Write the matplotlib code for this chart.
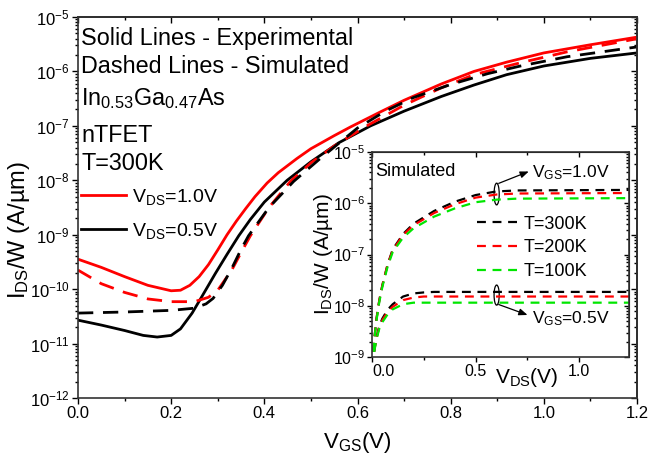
import numpy as np
import matplotlib
matplotlib.use("Agg")
import matplotlib.pyplot as plt
from matplotlib.patches import Ellipse
from matplotlib.ticker import LogLocator, MultipleLocator, FormatStrFormatter, NullFormatter

plt.rcParams['font.family'] = ['Liberation Sans', 'DejaVu Sans']
plt.rcParams['mathtext.fontset'] = 'custom'
plt.rcParams['mathtext.rm'] = 'Liberation Sans'
plt.rcParams['mathtext.it'] = 'Liberation Sans:italic'
plt.rcParams['mathtext.bf'] = 'Liberation Sans:bold'

# ---- main plot: Id/W vs Vgs (valores en log10) ----
vgs_exp_10 = [0.0, 0.05, 0.1, 0.15, 0.2, 0.22, 0.24, 0.26, 0.28, 0.3, 0.32, 0.34, 0.36,
              0.38, 0.406, 0.43, 0.47, 0.5, 0.55, 0.585, 0.65, 0.7, 0.78, 0.85, 0.92, 1.0,
              1.1, 1.2]
log_exp_10 = [-9.45, -9.6, -9.77, -9.93, -10.03, -10.02, -9.93, -9.77, -9.55, -9.28, -9.0,
              -8.75, -8.52, -8.3, -8.05, -7.86, -7.6, -7.42, -7.18, -7.02, -6.74, -6.53,
              -6.23, -6.0, -5.83, -5.66, -5.51, -5.37]

vgs_exp_05 = [0.0, 0.05, 0.1, 0.14, 0.17, 0.2, 0.22, 0.245, 0.265, 0.295, 0.32, 0.345, 0.37,
              0.4, 0.449, 0.5, 0.56, 0.628, 0.7, 0.78, 0.85, 0.92, 1.0, 1.1, 1.2]
log_exp_05 = [-10.57, -10.66, -10.76, -10.85, -10.88, -10.85, -10.73, -10.44, -10.15, -9.71,
              -9.36, -9.02, -8.72, -8.4, -8.0, -7.66, -7.31, -7.0, -6.73, -6.46, -6.25,
              -6.06, -5.9, -5.76, -5.66]

vgs_sim_10 = [0.0, 0.05, 0.1, 0.15, 0.2, 0.25, 0.28, 0.3, 0.33, 0.35, 0.37, 0.41, 0.456,
              0.5, 0.55, 0.62, 0.7, 0.78, 0.85, 0.95, 1.05, 1.2]
log_sim_10 = [-9.65, -9.9, -10.06, -10.18, -10.23, -10.23, -10.15, -10.02, -9.65, -9.33,
              -9.02, -8.5, -8.02, -7.68, -7.37, -7.0, -6.62, -6.3, -6.06, -5.84, -5.64, -5.4]

vgs_sim_05 = [0.0, 0.1, 0.2, 0.25, 0.275, 0.29, 0.31, 0.33, 0.35, 0.366, 0.41, 0.463, 0.52,
              0.6, 0.66, 0.72, 0.8, 0.88, 0.95, 1.05, 1.2]
log_sim_05 = [-10.44, -10.42, -10.39, -10.35, -10.27, -10.17, -9.93, -9.62, -9.27, -9.02,
              -8.5, -8.02, -7.6, -7.04, -6.73, -6.48, -6.24, -6.04, -5.9, -5.73, -5.55]

# ---- inset: Id/W vs Vds simulado a distintas T ----
vds_hi = [0.0, 0.01, 0.02, 0.035, 0.05, 0.075, 0.1, 0.15, 0.2, 0.3, 0.4, 0.5, 0.6, 0.7, 1.25]
log_hi_300 = [-9.2, -8.7, -8.3, -7.9, -7.6, -7.2, -6.9, -6.6, -6.4, -6.15, -5.97, -5.84,
              -5.77, -5.75, -5.74]
log_hi_200 = [-9.2, -8.7, -8.3, -7.9, -7.6, -7.2, -6.92, -6.62, -6.43, -6.19, -6.02, -5.89,
              -5.83, -5.81, -5.8]
log_hi_100 = [-9.2, -8.72, -8.33, -7.93, -7.63, -7.24, -6.95, -6.67, -6.49, -6.26, -6.1,
              -5.98, -5.93, -5.91, -5.9]

vds_lo = [0.0, 0.01, 0.02, 0.035, 0.05, 0.075, 0.1, 0.15, 0.2, 0.25, 0.3, 1.25]
log_lo_300 = [-9.2, -8.9, -8.65, -8.4, -8.25, -8.08, -7.97, -7.82, -7.76, -7.74, -7.73, -7.73]
log_lo_200 = [-9.2, -8.9, -8.66, -8.42, -8.28, -8.12, -8.02, -7.89, -7.84, -7.82, -7.82, -7.82]
log_lo_100 = [-9.2, -8.92, -8.68, -8.45, -8.32, -8.17, -8.07, -7.97, -7.94, -7.94, -7.94, -7.94]

temps = ["T=300K", "T=200K", "T=100K"]
colores = ["black", "red", "#00e600"]

fig = plt.figure(figsize=(6.48, 4.59), dpi=100)
ax = fig.add_axes([78/648, 1-398/459, 559/648, 381/459])

l1, = ax.plot(vgs_exp_10, 10**np.array(log_exp_10), color="red", lw=2)
l2, = ax.plot(vgs_exp_05, 10**np.array(log_exp_05), color="black", lw=2)
ax.plot(vgs_sim_10, 10**np.array(log_sim_10), color="red", lw=2, dashes=(5.5, 3.5))
ax.plot(vgs_sim_05, 10**np.array(log_sim_05), color="black", lw=2, dashes=(5.5, 3.5))

ax.set_yscale("log")
ax.set_xlim(0, 1.2)
ax.set_ylim(1e-12, 1e-5)
ax.xaxis.set_major_locator(MultipleLocator(0.2))
ax.xaxis.set_minor_locator(MultipleLocator(0.1))
ax.xaxis.set_major_formatter(FormatStrFormatter("%.1f"))
ax.yaxis.set_major_locator(LogLocator(base=10, numticks=20))
ax.yaxis.set_minor_locator(LogLocator(base=10, subs=np.arange(2, 10), numticks=20))
ax.yaxis.set_minor_formatter(NullFormatter())
ax.tick_params(which="both", direction="out", labelsize=12, width=1, pad=2)
ax.tick_params(which="major", length=4)
ax.tick_params(which="minor", length=2.5)
for s in ax.spines.values():
    s.set_linewidth(1.2)
    s.set_color("#333333")

top = ax.secondary_xaxis("top")
top.xaxis.set_major_locator(MultipleLocator(0.2))
top.xaxis.set_minor_locator(MultipleLocator(0.1))
top.tick_params(which="both", direction="in", labeltop=False, width=1)
top.tick_params(which="major", length=4)
top.tick_params(which="minor", length=2.5)
top.spines["top"].set_linewidth(1.2)
derecha = ax.secondary_yaxis("right")
derecha.yaxis.set_major_locator(LogLocator(base=10, numticks=20))
derecha.yaxis.set_minor_locator(LogLocator(base=10, subs=np.arange(2, 10), numticks=20))
derecha.tick_params(which="both", direction="in", labelright=False, width=1)
derecha.tick_params(which="major", length=4)
derecha.tick_params(which="minor", length=2.5)
derecha.yaxis.set_minor_formatter(NullFormatter())
derecha.spines["right"].set_linewidth(1.2)

ax.set_xlabel(r"V$_{\mathrm{GS}}$(V)", fontsize=16)
ax.xaxis.set_label_coords(0.5, -0.085)
ax.set_ylabel(r"I$_{\mathrm{DS}}$/W (A/µm)", fontsize=17)
ax.yaxis.set_label_coords(-0.083, 0.44)

textos = ["Solid Lines - Experimental", "Dashed Lines - Simulated",
          r"In$_{0.53}$Ga$_{0.47}$As", "nTFET", "T=300K"]
ys = [0.9265, 0.853, 0.77, 0.672, 0.598]
for t, y in zip(textos, ys):
    ax.text(0.006, y, t, transform=ax.transAxes, fontsize=16.8, va="baseline", ha="left")

ax.legend([l1, l2], [r"V$_{\mathrm{DS}}$=1.0V", r"V$_{\mathrm{DS}}$=0.5V"],
          loc="upper left", bbox_to_anchor=(0.005, 0.555), frameon=False, fontsize=14,
          handlelength=2.35, handletextpad=0.3, labelspacing=0.72, borderpad=0,
          borderaxespad=0)

# ---- inset ----
axi = fig.add_axes([372/648, 1-357/459, 257/648, 205/459])
axi.set_facecolor("white")
lineas = []
for lh, ll, c, t in zip([log_hi_300, log_hi_200, log_hi_100],
                        [log_lo_300, log_lo_200, log_lo_100], colores, temps):
    ln, = axi.plot(vds_hi, 10**np.array(lh), color=c, lw=1.6, dashes=(4, 3), label=t)
    axi.plot(vds_lo, 10**np.array(ll), color=c, lw=1.6, dashes=(4, 3))
    lineas.append(ln)

axi.set_yscale("log")
axi.set_xlim(0, 1.24)
axi.set_ylim(1e-9, 1e-5)
axi.set_xticks([0.0, 0.5, 1.0])
axi.xaxis.set_minor_locator(MultipleLocator(0.25))
axi.xaxis.set_major_formatter(FormatStrFormatter("%.1f"))
axi.yaxis.set_major_locator(LogLocator(base=10, numticks=20))
axi.yaxis.set_minor_locator(LogLocator(base=10, subs=np.arange(2, 10), numticks=20))
axi.yaxis.set_minor_formatter(NullFormatter())
axi.tick_params(which="both", direction="out", labelsize=11.5, width=1, pad=1.5)
axi.tick_params(which="major", length=3.5)
axi.tick_params(which="minor", length=2)
for s in axi.spines.values():
    s.set_linewidth(1.2)
    s.set_color("#333333")
axi.get_xticklabels()[0].set_ha("left")

topi = axi.secondary_xaxis("top")
topi.set_xticks([0.0, 0.5, 1.0])
topi.xaxis.set_minor_locator(MultipleLocator(0.25))
topi.tick_params(which="both", direction="in", labeltop=False, width=1)
topi.tick_params(which="major", length=3.5)
topi.tick_params(which="minor", length=2)
deri = axi.secondary_yaxis("right")
deri.yaxis.set_major_locator(LogLocator(base=10, numticks=20))
deri.yaxis.set_minor_locator(LogLocator(base=10, subs=np.arange(2, 10), numticks=20))
deri.yaxis.set_minor_formatter(NullFormatter())
deri.tick_params(which="both", direction="in", labelright=False, width=1)
deri.tick_params(which="major", length=3.5)
deri.tick_params(which="minor", length=2)

axi.set_xlabel(r"V$_{\mathrm{DS}}$(V)", fontsize=15)
axi.xaxis.set_label_coords(0.603, -0.045)
axi.set_ylabel(r"I$_{\mathrm{DS}}$/W (A/µm)", fontsize=15)
axi.yaxis.set_label_coords(-0.145, 0.5)

axi.text(0.012, 0.884, "Simulated", transform=axi.transAxes, fontsize=13, va="baseline")
axi.text(0.621, 0.879, r"V$_{\mathrm{GS}}$=1.0V", transform=axi.transAxes, fontsize=12.5,
         va="baseline")
axi.text(0.621, 0.166, r"V$_{\mathrm{GS}}$=0.5V", transform=axi.transAxes, fontsize=12.5,
         va="baseline")
axi.add_patch(Ellipse((0.485, 0.795), 0.02, 0.106, transform=axi.transAxes,
                      fill=False, ec="black", lw=0.9))
axi.add_patch(Ellipse((0.485, 0.302), 0.02, 0.098, transform=axi.transAxes,
                      fill=False, ec="black", lw=0.9))
flecha = dict(arrowstyle="-|>,head_length=0.5,head_width=0.2", color="black", lw=0.9,
              shrinkA=0, shrinkB=0)
axi.annotate("", xy=(0.61, 0.905), xytext=(0.493, 0.847), xycoords="axes fraction",
             arrowprops=flecha)
axi.annotate("", xy=(0.605, 0.205), xytext=(0.493, 0.256), xycoords="axes fraction",
             arrowprops=flecha)

axi.legend(handles=lineas, loc="upper left", bbox_to_anchor=(0.41, 0.69), frameon=False,
           fontsize=13, handlelength=2.3, handletextpad=0.25, labelspacing=0.38,
           borderpad=0, borderaxespad=0)

fig.savefig("out.png", dpi=100)
